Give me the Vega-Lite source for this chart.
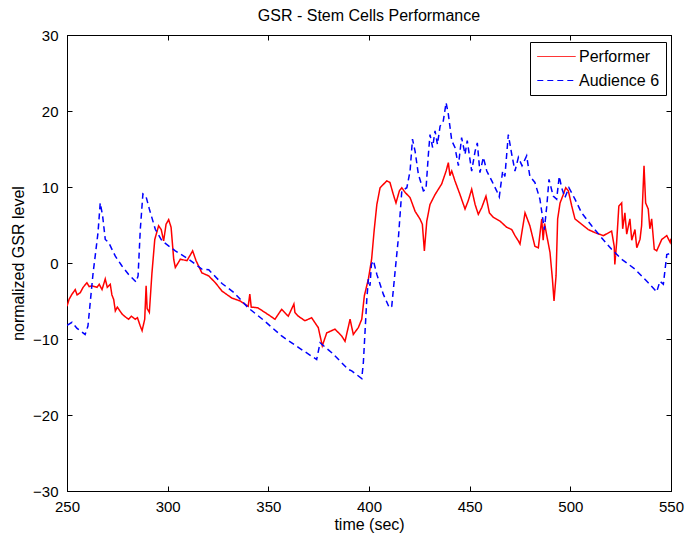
{
  "$schema": "https://vega.github.io/schema/vega-lite/v6.json",
  "autosize": "none",
  "width": 604,
  "height": 456,
  "padding": {"left": 67, "top": 35, "right": 14, "bottom": 48},
  "background": "white",
  "title": {"text": "GSR - Stem Cells Performance", "fontSize": 16, "fontWeight": "normal", "font": "Liberation Sans", "color": "black", "offset": 4},
  "config": {
    "view": {"stroke": "black", "strokeWidth": 1},
    "axis": {"grid": false, "domainColor": "black", "tickColor": "black", "labelColor": "black", "titleColor": "black", "labelFont": "Liberation Sans", "titleFont": "Liberation Sans", "labelFontSize": 15, "titleFontSize": 16, "titleFontWeight": "normal", "tickSize": -5, "labelFlush": false}
  },
  "data": {"values": [
    {"t":250,"v":-5.7,"s":"Performer"},{"t":251,"v":-4.8,"s":"Performer"},{"t":252.5,"v":-4.1,"s":"Performer"},{"t":254.1,"v":-3.5,"s":"Performer"},{"t":255,"v":-4.2,"s":"Performer"},{"t":256.6,"v":-3.9,"s":"Performer"},{"t":258,"v":-3.2,"s":"Performer"},{"t":259.9,"v":-2.6,"s":"Performer"},{"t":261,"v":-3.1,"s":"Performer"},{"t":262.4,"v":-3,"s":"Performer"},{"t":264.9,"v":-3.2,"s":"Performer"},{"t":266,"v":-2.8,"s":"Performer"},{"t":267.4,"v":-3.5,"s":"Performer"},{"t":269,"v":-2.1,"s":"Performer"},{"t":270,"v":-3.2,"s":"Performer"},{"t":271.5,"v":-2.8,"s":"Performer"},{"t":272.3,"v":-4.2,"s":"Performer"},{"t":273.2,"v":-4.8,"s":"Performer"},{"t":274,"v":-6.3,"s":"Performer"},{"t":275,"v":-5.8,"s":"Performer"},{"t":277.3,"v":-6.7,"s":"Performer"},{"t":279,"v":-7.1,"s":"Performer"},{"t":280.6,"v":-7.4,"s":"Performer"},{"t":282,"v":-7.0,"s":"Performer"},{"t":283.9,"v":-7.4,"s":"Performer"},{"t":285,"v":-7.2,"s":"Performer"},{"t":286.4,"v":-8.3,"s":"Performer"},{"t":287.3,"v":-8.9,"s":"Performer"},{"t":288.6,"v":-7.4,"s":"Performer"},{"t":289.3,"v":-3.0,"s":"Performer"},{"t":289.8,"v":-6.0,"s":"Performer"},{"t":290.9,"v":-6.5,"s":"Performer"},{"t":292.2,"v":-1.3,"s":"Performer"},{"t":293.6,"v":3.1,"s":"Performer"},{"t":295.5,"v":4.9,"s":"Performer"},{"t":296.8,"v":4.4,"s":"Performer"},{"t":298,"v":2.9,"s":"Performer"},{"t":299.2,"v":5.1,"s":"Performer"},{"t":300.5,"v":5.7,"s":"Performer"},{"t":301.7,"v":4.7,"s":"Performer"},{"t":303,"v":0.5,"s":"Performer"},{"t":303.8,"v":-0.6,"s":"Performer"},{"t":306.3,"v":0.5,"s":"Performer"},{"t":309.6,"v":0.3,"s":"Performer"},{"t":312.4,"v":1.6,"s":"Performer"},{"t":314.1,"v":0.3,"s":"Performer"},{"t":317,"v":-1.3,"s":"Performer"},{"t":320.4,"v":-1.7,"s":"Performer"},{"t":323.7,"v":-2.6,"s":"Performer"},{"t":327,"v":-3.7,"s":"Performer"},{"t":331.8,"v":-4.6,"s":"Performer"},{"t":336,"v":-5.0,"s":"Performer"},{"t":340,"v":-5.7,"s":"Performer"},{"t":340.8,"v":-4.1,"s":"Performer"},{"t":341.5,"v":-5.8,"s":"Performer"},{"t":344.8,"v":-5.9,"s":"Performer"},{"t":350,"v":-6.8,"s":"Performer"},{"t":353.3,"v":-7.4,"s":"Performer"},{"t":356.6,"v":-6.1,"s":"Performer"},{"t":359.9,"v":-7,"s":"Performer"},{"t":362.7,"v":-5.4,"s":"Performer"},{"t":363.2,"v":-6.5,"s":"Performer"},{"t":364.9,"v":-7,"s":"Performer"},{"t":368.2,"v":-7.6,"s":"Performer"},{"t":371.5,"v":-7.2,"s":"Performer"},{"t":374.8,"v":-8.5,"s":"Performer"},{"t":376.8,"v":-10.9,"s":"Performer"},{"t":379,"v":-9.2,"s":"Performer"},{"t":383.1,"v":-8.7,"s":"Performer"},{"t":386.4,"v":-9.6,"s":"Performer"},{"t":388.1,"v":-10.3,"s":"Performer"},{"t":390.6,"v":-7.4,"s":"Performer"},{"t":392.2,"v":-9.4,"s":"Performer"},{"t":394.7,"v":-8.5,"s":"Performer"},{"t":396.4,"v":-7.4,"s":"Performer"},{"t":397.7,"v":-4.3,"s":"Performer"},{"t":399.7,"v":-2.1,"s":"Performer"},{"t":401.3,"v":0.5,"s":"Performer"},{"t":402.6,"v":4.4,"s":"Performer"},{"t":403.9,"v":7.7,"s":"Performer"},{"t":405.5,"v":9.9,"s":"Performer"},{"t":408.8,"v":10.8,"s":"Performer"},{"t":410.4,"v":10.6,"s":"Performer"},{"t":412.1,"v":9,"s":"Performer"},{"t":413.4,"v":7.9,"s":"Performer"},{"t":415.1,"v":9.5,"s":"Performer"},{"t":416.3,"v":9.9,"s":"Performer"},{"t":417.9,"v":9.3,"s":"Performer"},{"t":420.4,"v":8.6,"s":"Performer"},{"t":422.9,"v":6.8,"s":"Performer"},{"t":425.3,"v":5.8,"s":"Performer"},{"t":426.5,"v":5.1,"s":"Performer"},{"t":427.5,"v":1.6,"s":"Performer"},{"t":428.7,"v":5.5,"s":"Performer"},{"t":430.3,"v":7.7,"s":"Performer"},{"t":432.8,"v":9,"s":"Performer"},{"t":436.1,"v":10.4,"s":"Performer"},{"t":438.3,"v":12.1,"s":"Performer"},{"t":439.4,"v":13.2,"s":"Performer"},{"t":440.2,"v":11.5,"s":"Performer"},{"t":441.1,"v":12.1,"s":"Performer"},{"t":442.7,"v":10.8,"s":"Performer"},{"t":445.2,"v":9,"s":"Performer"},{"t":447.7,"v":7.1,"s":"Performer"},{"t":449.3,"v":8.2,"s":"Performer"},{"t":451,"v":9.7,"s":"Performer"},{"t":452.7,"v":7.7,"s":"Performer"},{"t":454.3,"v":6.4,"s":"Performer"},{"t":456,"v":7.3,"s":"Performer"},{"t":458.1,"v":8.8,"s":"Performer"},{"t":459.8,"v":6.6,"s":"Performer"},{"t":461.8,"v":6,"s":"Performer"},{"t":465.1,"v":5.5,"s":"Performer"},{"t":468.4,"v":4.7,"s":"Performer"},{"t":470.9,"v":4.4,"s":"Performer"},{"t":472.5,"v":3.6,"s":"Performer"},{"t":474.2,"v":2.9,"s":"Performer"},{"t":475,"v":2.5,"s":"Performer"},{"t":477.5,"v":6.6,"s":"Performer"},{"t":479.9,"v":4.9,"s":"Performer"},{"t":482.4,"v":2.2,"s":"Performer"},{"t":484.1,"v":2,"s":"Performer"},{"t":485.8,"v":5.8,"s":"Performer"},{"t":486.5,"v":3.0,"s":"Performer"},{"t":487.2,"v":5.2,"s":"Performer"},{"t":488.3,"v":3.6,"s":"Performer"},{"t":489.9,"v":1.4,"s":"Performer"},{"t":491.1,"v":-2.1,"s":"Performer"},{"t":491.9,"v":-5,"s":"Performer"},{"t":492.9,"v":-1.7,"s":"Performer"},{"t":493.7,"v":5.8,"s":"Performer"},{"t":494.9,"v":7.9,"s":"Performer"},{"t":496.5,"v":9,"s":"Performer"},{"t":497.7,"v":9.9,"s":"Performer"},{"t":499,"v":9.5,"s":"Performer"},{"t":500.7,"v":7.5,"s":"Performer"},{"t":502.3,"v":5.8,"s":"Performer"},{"t":505.6,"v":5.1,"s":"Performer"},{"t":508.9,"v":4.4,"s":"Performer"},{"t":512.2,"v":4,"s":"Performer"},{"t":516.4,"v":3.6,"s":"Performer"},{"t":520.5,"v":4.2,"s":"Performer"},{"t":521.8,"v":2.2,"s":"Performer"},{"t":522.1,"v":-0.2,"s":"Performer"},{"t":523,"v":2.7,"s":"Performer"},{"t":524.1,"v":7.5,"s":"Performer"},{"t":525.5,"v":7.9,"s":"Performer"},{"t":526,"v":4.5,"s":"Performer"},{"t":527.1,"v":6.6,"s":"Performer"},{"t":528,"v":3.8,"s":"Performer"},{"t":529.6,"v":5.8,"s":"Performer"},{"t":530.5,"v":3.0,"s":"Performer"},{"t":532.1,"v":4.4,"s":"Performer"},{"t":533,"v":2.0,"s":"Performer"},{"t":534.6,"v":3.1,"s":"Performer"},{"t":535.4,"v":4.9,"s":"Performer"},{"t":536.6,"v":12.8,"s":"Performer"},{"t":537.4,"v":7.9,"s":"Performer"},{"t":538.7,"v":7.1,"s":"Performer"},{"t":539.5,"v":4.5,"s":"Performer"},{"t":540.4,"v":5.8,"s":"Performer"},{"t":541.7,"v":1.8,"s":"Performer"},{"t":542.9,"v":1.6,"s":"Performer"},{"t":545.4,"v":3.1,"s":"Performer"},{"t":547.9,"v":3.6,"s":"Performer"},{"t":549.6,"v":2.7,"s":"Performer"},{"t":550,"v":3.2,"s":"Performer"},
    {"t":250,"v":-8.2,"s":"Audience 6"},{"t":252.5,"v":-7.8,"s":"Audience 6"},{"t":255,"v":-8.6,"s":"Audience 6"},{"t":257,"v":-9.0,"s":"Audience 6"},{"t":259,"v":-9.4,"s":"Audience 6"},{"t":260.4,"v":-8.3,"s":"Audience 6"},{"t":263,"v":-1.2,"s":"Audience 6"},{"t":264,"v":0.9,"s":"Audience 6"},{"t":265.4,"v":4,"s":"Audience 6"},{"t":266.5,"v":7.9,"s":"Audience 6"},{"t":267.7,"v":6.2,"s":"Audience 6"},{"t":269,"v":3.1,"s":"Audience 6"},{"t":270.7,"v":2.7,"s":"Audience 6"},{"t":274,"v":0.9,"s":"Audience 6"},{"t":277.3,"v":-0.4,"s":"Audience 6"},{"t":280.6,"v":-1.5,"s":"Audience 6"},{"t":284.3,"v":-2.5,"s":"Audience 6"},{"t":285.3,"v":-1.7,"s":"Audience 6"},{"t":286.4,"v":4.4,"s":"Audience 6"},{"t":287.7,"v":9.1,"s":"Audience 6"},{"t":289.2,"v":8.8,"s":"Audience 6"},{"t":290.9,"v":7.1,"s":"Audience 6"},{"t":293.9,"v":4.4,"s":"Audience 6"},{"t":297.2,"v":2.9,"s":"Audience 6"},{"t":303.8,"v":1.6,"s":"Audience 6"},{"t":310.4,"v":0.5,"s":"Audience 6"},{"t":317,"v":-0.8,"s":"Audience 6"},{"t":320.4,"v":-0.9,"s":"Audience 6"},{"t":327,"v":-2.7,"s":"Audience 6"},{"t":333,"v":-3.9,"s":"Audience 6"},{"t":340,"v":-5.9,"s":"Audience 6"},{"t":348,"v":-7.6,"s":"Audience 6"},{"t":356.6,"v":-9.6,"s":"Audience 6"},{"t":364.9,"v":-11.1,"s":"Audience 6"},{"t":374,"v":-12.7,"s":"Audience 6"},{"t":375.7,"v":-10.5,"s":"Audience 6"},{"t":381.5,"v":-11.8,"s":"Audience 6"},{"t":389.7,"v":-14,"s":"Audience 6"},{"t":391.4,"v":-14.2,"s":"Audience 6"},{"t":396.4,"v":-15.2,"s":"Audience 6"},{"t":397.2,"v":-13.1,"s":"Audience 6"},{"t":398.9,"v":-4.8,"s":"Audience 6"},{"t":399.7,"v":-2.1,"s":"Audience 6"},{"t":400.5,"v":-3.0,"s":"Audience 6"},{"t":401.2,"v":-0.2,"s":"Audience 6"},{"t":402.2,"v":0.3,"s":"Audience 6"},{"t":403.9,"v":-1.5,"s":"Audience 6"},{"t":407.1,"v":-4.1,"s":"Audience 6"},{"t":410.1,"v":-5.9,"s":"Audience 6"},{"t":411.3,"v":-5.7,"s":"Audience 6"},{"t":413,"v":-1,"s":"Audience 6"},{"t":414.6,"v":3.3,"s":"Audience 6"},{"t":415.8,"v":7.7,"s":"Audience 6"},{"t":416.3,"v":9.5,"s":"Audience 6"},{"t":418.8,"v":9.9,"s":"Audience 6"},{"t":420.4,"v":12.1,"s":"Audience 6"},{"t":421.6,"v":16.3,"s":"Audience 6"},{"t":422.9,"v":14.7,"s":"Audience 6"},{"t":424.5,"v":11.7,"s":"Audience 6"},{"t":427,"v":9.5,"s":"Audience 6"},{"t":428.3,"v":9.7,"s":"Audience 6"},{"t":429.5,"v":14.3,"s":"Audience 6"},{"t":430.3,"v":16.9,"s":"Audience 6"},{"t":431.6,"v":15.2,"s":"Audience 6"},{"t":432.8,"v":17.4,"s":"Audience 6"},{"t":434,"v":15.6,"s":"Audience 6"},{"t":435.3,"v":18,"s":"Audience 6"},{"t":436.9,"v":18.7,"s":"Audience 6"},{"t":438.3,"v":21.1,"s":"Audience 6"},{"t":439.4,"v":19.6,"s":"Audience 6"},{"t":441.1,"v":16.1,"s":"Audience 6"},{"t":442.7,"v":15.2,"s":"Audience 6"},{"t":444.4,"v":12.8,"s":"Audience 6"},{"t":446,"v":16.5,"s":"Audience 6"},{"t":447.7,"v":14.3,"s":"Audience 6"},{"t":448.8,"v":16.1,"s":"Audience 6"},{"t":451,"v":12.1,"s":"Audience 6"},{"t":452.7,"v":14.7,"s":"Audience 6"},{"t":453.8,"v":15.8,"s":"Audience 6"},{"t":455.1,"v":11.9,"s":"Audience 6"},{"t":456.8,"v":13.9,"s":"Audience 6"},{"t":458.5,"v":12.1,"s":"Audience 6"},{"t":461,"v":10.8,"s":"Audience 6"},{"t":463.4,"v":9.5,"s":"Audience 6"},{"t":464.7,"v":8.7,"s":"Audience 6"},{"t":466.4,"v":12.1,"s":"Audience 6"},{"t":467.5,"v":11.4,"s":"Audience 6"},{"t":469.2,"v":16.9,"s":"Audience 6"},{"t":470.9,"v":14.3,"s":"Audience 6"},{"t":472.5,"v":12.1,"s":"Audience 6"},{"t":474.2,"v":13.9,"s":"Audience 6"},{"t":476,"v":12.8,"s":"Audience 6"},{"t":478.3,"v":14.1,"s":"Audience 6"},{"t":479.9,"v":11.4,"s":"Audience 6"},{"t":482.4,"v":10.6,"s":"Audience 6"},{"t":484.9,"v":8.4,"s":"Audience 6"},{"t":486.1,"v":6.2,"s":"Audience 6"},{"t":487.1,"v":4.4,"s":"Audience 6"},{"t":488.3,"v":7.5,"s":"Audience 6"},{"t":489.4,"v":11,"s":"Audience 6"},{"t":491.5,"v":8.8,"s":"Audience 6"},{"t":493.2,"v":8.4,"s":"Audience 6"},{"t":494.5,"v":11.4,"s":"Audience 6"},{"t":495.7,"v":9.9,"s":"Audience 6"},{"t":497.3,"v":8.6,"s":"Audience 6"},{"t":499.3,"v":9.9,"s":"Audience 6"},{"t":502.3,"v":8.4,"s":"Audience 6"},{"t":505.6,"v":6.6,"s":"Audience 6"},{"t":510.6,"v":4.9,"s":"Audience 6"},{"t":515.6,"v":3.3,"s":"Audience 6"},{"t":520.5,"v":1.8,"s":"Audience 6"},{"t":525.5,"v":0.5,"s":"Audience 6"},{"t":532.1,"v":-0.8,"s":"Audience 6"},{"t":538.7,"v":-2.6,"s":"Audience 6"},{"t":542.9,"v":-3.8,"s":"Audience 6"},{"t":544.5,"v":-2.4,"s":"Audience 6"},{"t":546.2,"v":-2.8,"s":"Audience 6"},{"t":547.9,"v":1.1,"s":"Audience 6"},{"t":550,"v":1.3,"s":"Audience 6"}
  ]},
  "layer": [
    {
      "mark": {"type": "line", "strokeWidth": 1.5, "clip": true},
      "encoding": {
        "x": {"field": "t", "type": "quantitative", "scale": {"domain": [250, 550], "nice": false, "zero": false}, "axis": {"title": "time (sec)", "values": [250, 300, 350, 400, 450, 500, 550], "labelPadding": 13, "titlePadding": 2}},
        "y": {"field": "v", "type": "quantitative", "scale": {"domain": [-30, 30], "nice": false, "zero": false}, "axis": {"title": "normalized GSR level", "values": [-30, -20, -10, 0, 10, 20, 30], "labelPadding": 14, "titlePadding": 6}},
        "color": {"field": "s", "type": "nominal", "scale": {"domain": ["Performer", "Audience 6"], "range": ["#ff0000", "#0000ff"]},
          "legend": {"title": null, "orient": "none", "legendX": 463, "legendY": 7, "strokeColor": "black", "fillColor": "white", "padding": 6, "symbolType": "M-2.4,0H2.4", "symbolSize": 256, "symbolStrokeWidth": 1, "symbolOffset": 12, "labelFont": "Liberation Sans", "labelFontSize": 16, "labelColor": "black", "labelOffset": 14, "rowPadding": 7}},
        "strokeDash": {"field": "s", "type": "nominal", "scale": {"domain": ["Performer", "Audience 6"], "range": [[1, 0], [6, 4]]}, "legend": null}
      }
    },
    {
      "mark": {"type": "line", "opacity": 0},
      "encoding": {
        "x": {"field": "t", "type": "quantitative", "scale": {"domain": [250, 550], "nice": false, "zero": false}, "axis": {"orient": "top", "title": null, "labels": false, "values": [250, 300, 350, 400, 450, 500, 550]}},
        "y": {"field": "v", "type": "quantitative", "scale": {"domain": [-30, 30], "nice": false, "zero": false}, "axis": {"orient": "right", "title": null, "labels": false, "values": [-30, -20, -10, 0, 10, 20, 30]}},
        "detail": {"field": "s", "type": "nominal"}
      }
    }
  ],
  "resolve": {"axis": {"x": "independent", "y": "independent"}}
}
